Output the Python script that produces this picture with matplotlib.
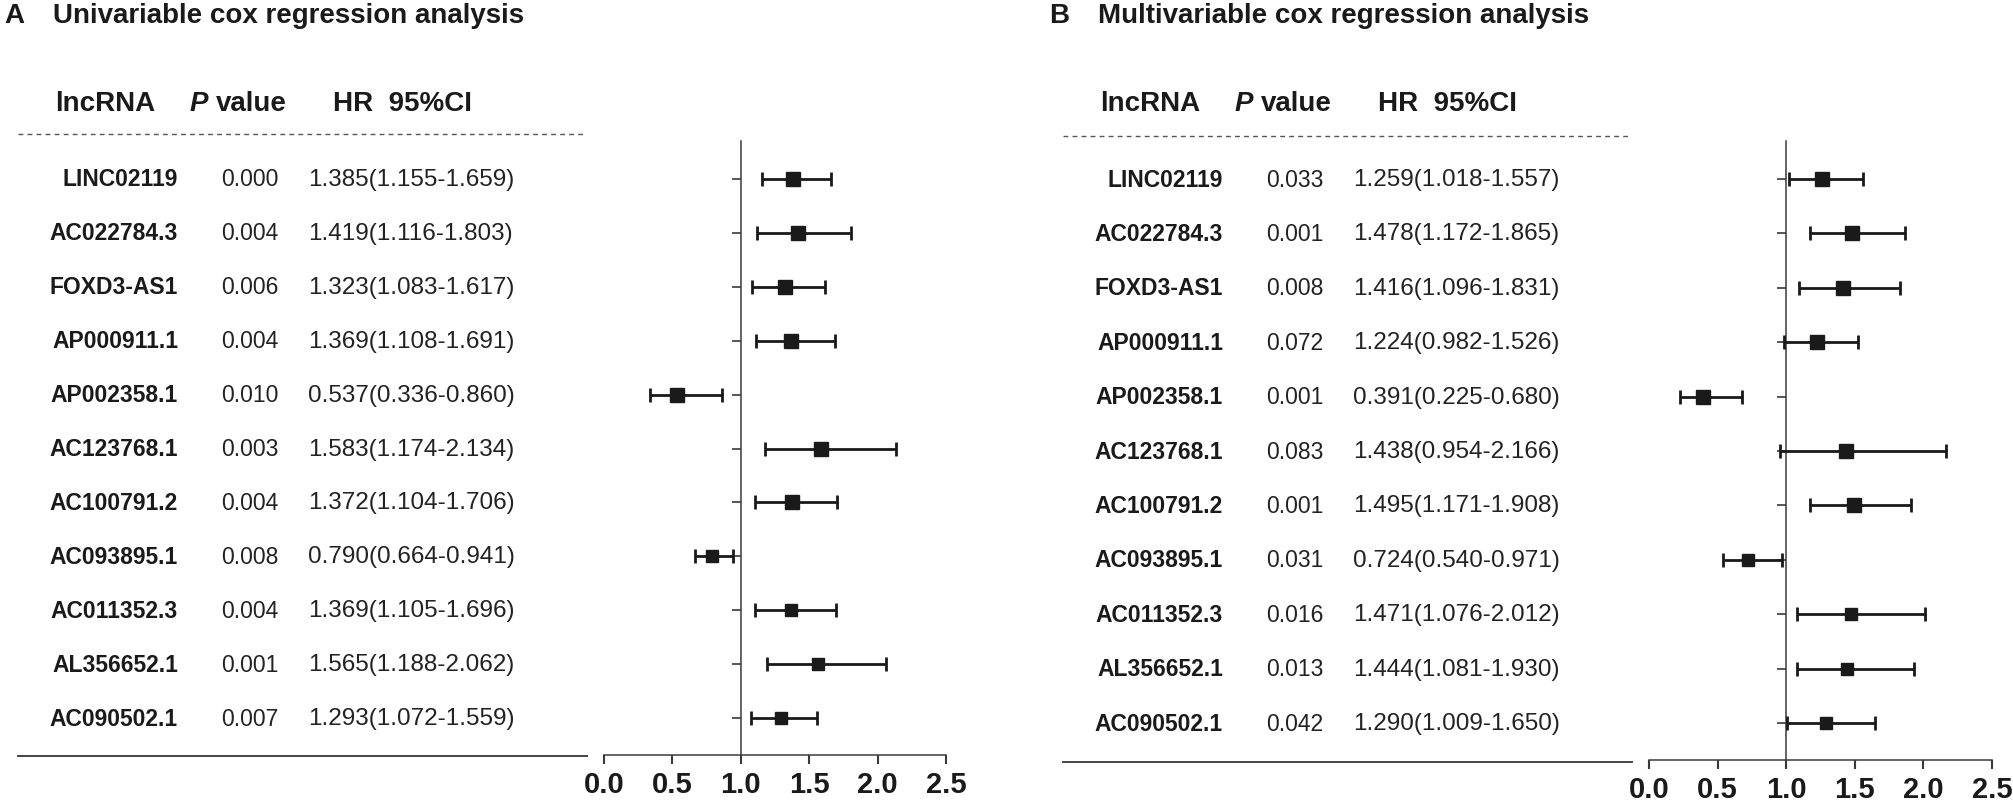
import matplotlib
matplotlib.use('Agg')
import matplotlib.pyplot as plt
import matplotlib.transforms as mtransforms
from matplotlib.lines import Line2D

plt.rcParams['font.family'] = ['Liberation Sans', 'DejaVu Sans']

LNCRNAS = ['LINC02119', 'AC022784.3', 'FOXD3-AS1', 'AP000911.1', 'AP002358.1',
           'AC123768.1', 'AC100791.2', 'AC093895.1', 'AC011352.3', 'AL356652.1',
           'AC090502.1']

# Univariable cox regression
UNI_P = ['0.000', '0.004', '0.006', '0.004', '0.010', '0.003', '0.004', '0.008',
         '0.004', '0.001', '0.007']
UNI_HR = [1.385, 1.419, 1.323, 1.369, 0.537, 1.583, 1.372, 0.790, 1.369, 1.565, 1.293]
UNI_LOW = [1.155, 1.116, 1.083, 1.108, 0.336, 1.174, 1.104, 0.664, 1.105, 1.188, 1.072]
UNI_HIGH = [1.659, 1.803, 1.617, 1.691, 0.860, 2.134, 1.706, 0.941, 1.696, 2.062, 1.559]

# Multivariable cox regression
MULTI_P = ['0.033', '0.001', '0.008', '0.072', '0.001', '0.083', '0.001', '0.031',
           '0.016', '0.013', '0.042']
MULTI_HR = [1.259, 1.478, 1.416, 1.224, 0.391, 1.438, 1.495, 0.724, 1.471, 1.444, 1.290]
MULTI_LOW = [1.018, 1.172, 1.096, 0.982, 0.225, 0.954, 1.171, 0.540, 1.076, 1.081, 1.009]
MULTI_HIGH = [1.557, 1.865, 1.831, 1.526, 0.680, 2.166, 1.908, 0.971, 2.012, 1.930, 1.650]

X_TICKS = [0.0, 0.5, 1.0, 1.5, 2.0, 2.5]

W, H = 2013, 804
INK = '#1a1a1a'
LINE = '#3a3a3a'
# marker size per row (last rows drawn a bit smaller in the original)
MARKER_SIZES = [10.5, 10.5, 10.5, 10.5, 10.5, 10.5, 10.5, 8.5, 8.5, 8.5, 8.5]


def px(x):
    return x / W


def py(y):
    return 1 - y / H


def draw_panel(fig, dx, letter, title, p_vals, hr, low, high, ax_box, table_y, dash_y):
    left, right, top, bottom = ax_box
    ax = fig.add_axes([px(left), py(bottom), px(right - left), py(top) - py(bottom)])

    rows = list(range(1, len(LNCRNAS) + 1))
    for i, r in enumerate(rows):
        ax.errorbar(hr[i], r, xerr=[[hr[i] - low[i]], [high[i] - hr[i]]],
                    fmt='s', color=INK, ms=MARKER_SIZES[i], elinewidth=2.0,
                    capsize=5, capthick=2.0, zorder=3)

    ax.set_xlim(0, 2.5)
    ax.set_ylim(11.68, 0.3)
    ax.set_xticks(X_TICKS)
    ax.set_xticklabels([f'{t:.1f}' for t in X_TICKS], fontsize=21, fontweight='bold', color=INK)
    ax.set_yticks(rows)
    ax.set_yticklabels([])
    ax.spines['top'].set_visible(False)
    ax.spines['right'].set_visible(False)
    ax.spines['left'].set_position(('data', 1.0))
    for s in ('left', 'bottom'):
        ax.spines[s].set_linewidth(1.1)
        ax.spines[s].set_color(LINE)
    ax.tick_params(axis='x', direction='out', length=6.5, width=1.5, color=LINE, pad=4)
    ax.tick_params(axis='y', direction='out', length=6.5, width=1.2, color=LINE)
    ax.patch.set_alpha(0)

    # table text, rows follow the axes' y scale
    trans = mtransforms.blended_transform_factory(fig.transFigure, ax.transData)
    for i, r in enumerate(rows):
        fig.text(px(178 + dx), r, LNCRNAS[i], transform=trans, ha='right', va='center',
                 fontsize=16.5, fontweight='bold', color=INK)
        fig.text(px(250 + dx), r, p_vals[i], transform=trans, ha='center', va='center',
                 fontsize=16.5, color='#222222')
        fig.text(px(308 + dx), r, f'{hr[i]:.3f}({low[i]:.3f}-{high[i]:.3f})', transform=trans,
                 ha='left', va='center', fontsize=17.5, color='#222222')

    fig.text(px(4 + dx), py(16), letter, ha='left', va='center', fontsize=20,
             fontweight='bold', color=INK)
    fig.text(px(53 + dx), py(16), title, ha='left', va='center', fontsize=20,
             fontweight='bold', color=INK)

    hy = py(104)
    fig.text(px(55 + dx), hy, 'lncRNA', ha='left', va='center', fontsize=20,
             fontweight='bold', color=INK)
    fig.text(px(190 + dx), hy, 'P', ha='left', va='center', fontsize=20,
             fontweight='bold', style='italic', color=INK)
    fig.text(px(216 + dx), hy, 'value', ha='left', va='center', fontsize=20,
             fontweight='bold', color=INK)
    fig.text(px(333 + dx), hy, 'HR  95%CI', ha='left', va='center', fontsize=20,
             fontweight='bold', color=INK)

    fig.add_artist(Line2D([px(18 + dx), px(585 + dx)], [py(dash_y), py(dash_y)],
                          transform=fig.transFigure, color='#555555', lw=1.0,
                          linestyle=(0, (3.5, 3))))
    fig.add_artist(Line2D([px(18 + dx), px(587 + dx)], [py(table_y), py(table_y)],
                          transform=fig.transFigure, color='#444444', lw=1.4))
    return ax


fig = plt.figure(figsize=(W / 100, H / 100), dpi=100)

draw_panel(fig, 0, 'A', 'Univariable cox regression analysis',
           UNI_P, UNI_HR, UNI_LOW, UNI_HIGH, (604, 946, 142, 756), 757, 135)
draw_panel(fig, 1045, 'B', 'Multivariable cox regression analysis',
           MULTI_P, MULTI_HR, MULTI_LOW, MULTI_HIGH, (1649, 1992, 142, 761), 763, 137)

fig.savefig('out.png', dpi=100, facecolor='white')
